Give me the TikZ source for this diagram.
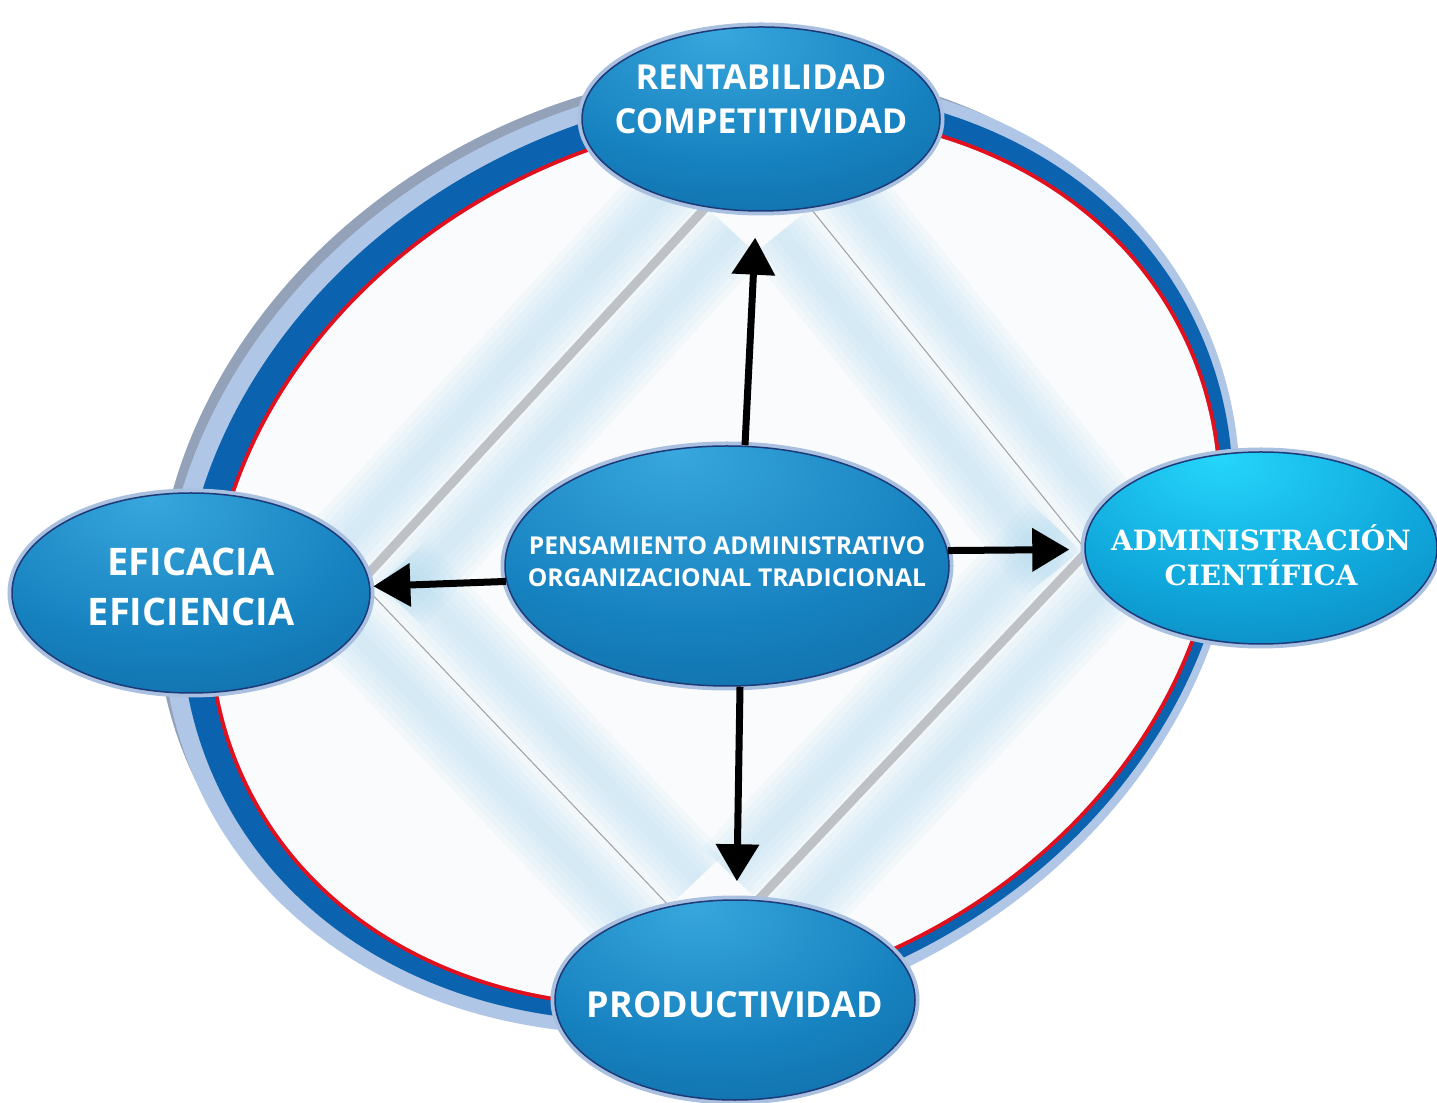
\documentclass[tikz,border=0pt]{standalone}
\usepackage{fontspec}
\newfontfamily\labelsans{Open Sans}
\newfontfamily\labelslab{DejaVu Serif}
\usetikzlibrary{shapes.geometric,arrows.meta,calc}

% ring colours
\definecolor{ringgray}{HTML}{93A2B8}
\definecolor{ringlight}{HTML}{AFC6E6}
\definecolor{ringblue}{HTML}{0B62AE}
\definecolor{ringred}{HTML}{E0101E}
\definecolor{innerfill}{HTML}{FAFBFC}
% diamond colours
\definecolor{glowblue}{HTML}{A8D8F0}
\definecolor{edgegray}{HTML}{BEC1C6}
\definecolor{thingray}{HTML}{A3A7AD}
% oval colours
\definecolor{rimlight}{HTML}{A9C0E0}
\definecolor{rimdark}{HTML}{1C3A78}
\definecolor{ndA}{HTML}{38A7DD}
\definecolor{ndB}{HTML}{1681BF}
\definecolor{ndC}{HTML}{0A5A8F}
\definecolor{cyA}{HTML}{25D6FB}
\definecolor{cyB}{HTML}{0FA5DA}
\definecolor{cyC}{HTML}{0A67A0}

\pgfdeclareradialshading{ovalblue}{\pgfpoint{-6bp}{24bp}}%
  {color(0bp)=(ndA); color(28bp)=(ndB); color(62bp)=(ndC); color(80bp)=(ndC)}
\pgfdeclareradialshading{ovalcyan}{\pgfpoint{-6bp}{24bp}}%
  {color(0bp)=(cyA); color(28bp)=(cyB); color(62bp)=(cyC); color(80bp)=(cyC)}

\pgfdeclarelayer{ringlayer}
\pgfdeclarelayer{glowlayer}
\pgfsetlayers{ringlayer,glowlayer,main}

\newcommand\sanslabel[2]{\labelsans\bfseries\fontsize{#1}{#2}\selectfont}
\newcommand\slablabel[2]{\labelslab\bfseries\fontsize{#1}{#2}\selectfont}

% one rotated ellipse of the ring: colour, centre x, centre y, radii
\newcommand\ringoval[5]{%
  \fill[#1, rotate around={25:(#2,#3)}] (#2,#3) ellipse [x radius=#4, y radius=#5];}

% soft light-blue bands on both sides of a diamond edge
\newcommand\edgeglow[2]{%
  \foreach \sa/\sb in {90/-90,-90/90}{%
    \foreach \w in {7.5mm,6.3mm,5.1mm,3.9mm,2.7mm,1.5mm}{%
      \draw[glowblue, line width=\w, opacity=0.085]
        ($(#1)!3.9mm!\sa:(#2)$) -- ($(#2)!3.9mm!\sb:(#1)$);
    }}}

\tikzset{
  oval/.style={ellipse, inner sep=0pt, shade, shading=ovalblue,
    draw=rimdark, line width=0.15mm,
    preaction={draw=rimlight, line width=0.9mm}},
  ovalcy/.style={oval, shading=ovalcyan},
  ovaltxt/.style={text=white, align=center, inner sep=0pt},
  flow/.style={draw=black, line width=0.7mm,
    -{Triangle[length=3.7mm,width=4.2mm]}},
  thickedge/.style={draw=edgegray, line width=0.9mm},
  thinedge/.style={draw=thingray, line width=0.12mm}
}

\begin{document}
\begin{tikzpicture}[x=0.1mm,y=-0.1mm]
\useasboundingbox (0,0) rectangle (1437,1103);

% ovals
\node[oval, minimum width=35.8mm, minimum height=18.4mm] (t) at (761,119) {};
\node[oval, minimum width=44.4mm, minimum height=24mm] (c) at (727,566) {};
\node[oval, minimum width=35.8mm, minimum height=20mm] (l) at (191,593) {};
\node[ovalcy, minimum width=35.2mm, minimum height=19.2mm] (r) at (1261,548) {};
\node[oval, minimum width=36mm, minimum height=20mm] (b) at (735,1000) {};

% labels
\node[ovaltxt, font=\sanslabel{9.8pt}{12.5pt}] (t-txt) at ([yshift=2mm]t.center)
  {RENTABILIDAD\\COMPETITIVIDAD};
\node[ovaltxt, font=\sanslabel{7pt}{9.1pt}] (c-txt) at ([yshift=0.4mm]c.center)
  {PENSAMIENTO ADMINISTRATIVO\\ORGANIZACIONAL TRADICIONAL};
\node[ovaltxt, font=\sanslabel{10.8pt}{14.2pt}] (l-txt) at ([yshift=0.6mm]l.center)
  {EFICACIA\\EFICIENCIA};
\node[ovaltxt, font=\slablabel{7.95pt}{10pt}] (r-txt) at ([yshift=-0.75mm]r.center)
  {ADMINISTRACIÓN\\CIENTÍFICA};
\node[ovaltxt, font=\sanslabel{10.2pt}{12pt}] (b-txt) at ([yshift=-0.5mm]b.center)
  {PRODUCTIVIDAD};

% arrows from the central idea
\draw[flow, shorten >=2.6mm] ([xshift=1.8mm]c.north) -- (t);
\draw[flow, shorten >=1.5mm] (c.4) -- (r);
\draw[flow, shorten >=0.3mm] (c.184) -- (l);
\draw[flow, shorten >=1.8mm] ([xshift=1.3mm]c.south) -- (b);

% outer ring on a white page
\begin{pgfonlayer}{ringlayer}
  \fill[white] (0,0) rectangle (1437,1103);
  \ringoval{ringgray}{689}{542}{548}{456}
  \ringoval{ringlight}{701}{554}{554}{462}
  \ringoval{ringblue}{707}{555}{541}{448}
  \ringoval{ringred}{715}{560}{522}{430}
  \ringoval{innerfill}{715}{560}{518}{426}
\end{pgfonlayer}

% diamond with its glow
\begin{pgfonlayer}{glowlayer}
  \begin{scope}
    \clip[rotate around={25:(715,560)}] (715,560) ellipse [x radius=518, y radius=426];
    \edgeglow{l.6}{t.238}
    \edgeglow{t.-61}{r.180}
    \edgeglow{r.182}{b.77}
    \edgeglow{l.0}{b.125}
  \end{scope}
  \draw[thickedge] (l.6) -- (t.238);
  \draw[thinedge] (t.-61) -- (r.180);
  \draw[thickedge] (r.182) -- (b.77);
  \draw[thinedge] (l.0) -- (b.125);
\end{pgfonlayer}
\end{tikzpicture}
\end{document}
